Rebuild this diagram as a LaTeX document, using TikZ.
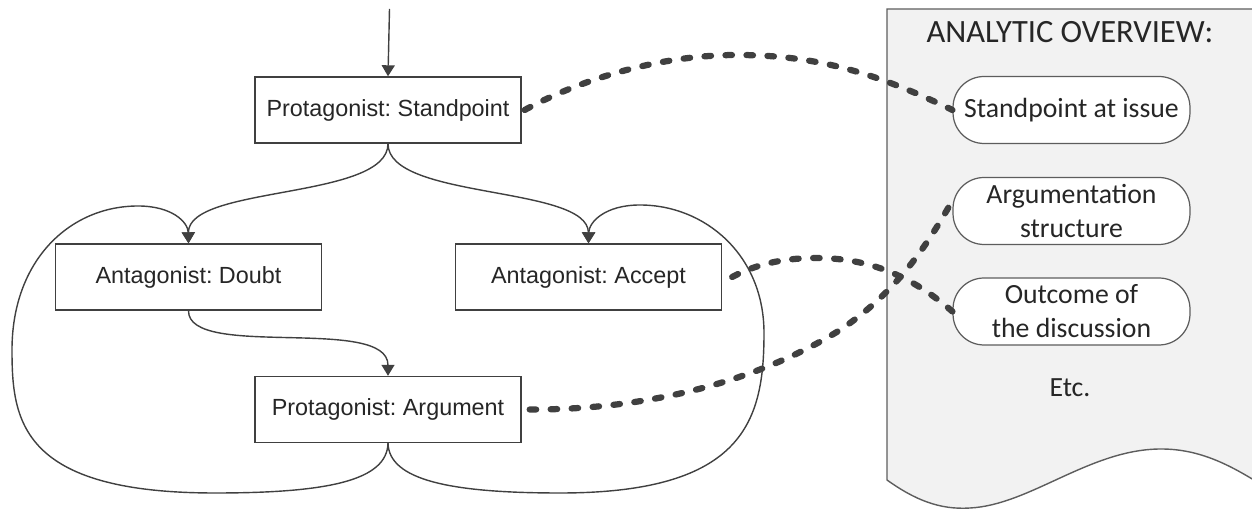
\documentclass[tikz,border=0pt]{standalone}
\usepackage{fontspec}
\setmainfont{Liberation Sans}
\newfontfamily\calib{Carlito}
\usetikzlibrary{arrows.meta}
\definecolor{ln}{HTML}{404040}
\definecolor{panelfill}{HTML}{F2F2F2}
\definecolor{txt}{HTML}{262626}
\frenchspacing
\begin{document}
\begin{tikzpicture}[x=0.02cm,y=-0.02cm,
  box/.style={draw=ln, line width=0.8pt, fill=white, minimum width=5.32cm, minimum height=1.32cm, inner sep=0pt, text=txt, font=\fontsize{13.3}{16}\selectfont},
  pill/.style={draw=ln!85, line width=0.7pt, fill=white, rounded corners=0.62cm, minimum width=4.74cm, minimum height=1.34cm, align=center, inner sep=0pt, text=txt, font=\calib\fontsize{15.8}{19.3}\selectfont},
  link/.style={draw=ln, line width=0.8pt, -{Triangle[length=0.22cm,width=0.26cm]}},
  dlink/.style={draw=ln, line width=0.125cm, line cap=round, dash pattern=on 0.13cm off 0.29cm},
  panel/.style={draw=ln!85, line width=0.8pt, fill=panelfill}]
\useasboundingbox (0,0) rectangle (1252,509);

% panel
\path[panel] (1262,9) -- (887,9) -- (887,480)
  .. controls (915,500) and (940,510) .. (970,508)
  .. controls (1030,505) and (1090,449) .. (1161,449)
  .. controls (1200,449) and (1230,465) .. (1262,485);
\node[text=txt, font=\calib\fontsize{18.5}{22}\selectfont] (title) at (1070,32) {ANALYTIC OVERVIEW:};
\node[text=txt, font=\calib\fontsize{15.8}{19}\selectfont] (etc) at (1070,388) {Etc.};

\coordinate (top) at (389.5,9);
\node[box] (sp) at (388,110) {Protagonist: Standpoint};
\node[box] (doubt) at (188.5,277) {Antagonist: Doubt};
\node[box] (accept) at (588.5,277) {Antagonist: Accept};
\node[box] (arg) at (388,409.5) {Protagonist: Argument};

% loops
\draw[link] (arg.south) .. controls (387,480) and (330,493) .. (215,493)
  .. controls (20,493) and (12,420) .. (12,350)
  .. controls (12,260) and (70,206) .. (138,206)
  .. controls (172,206) and (188,222) .. (doubt.north);
\draw[link] (arg.south) .. controls (389,480) and (450,493) .. (560,493)
  .. controls (745,493) and (764,420) .. (764,333)
  .. controls (764,255) and (705,205) .. (640,205)
  .. controls (605,205) and (589,222) .. (accept.north);

% redraw boxes on top of the loops
\node[box] at (sp) {Protagonist: Standpoint};
\node[box] at (doubt) {Antagonist: Doubt};
\node[box] at (accept) {Antagonist: Accept};
\node[box] at (arg) {Protagonist: Argument};

\draw[link] (top) -- (sp.north);
\draw[link] (sp.south) .. controls (388,200) and (188,185) .. (doubt.north);
\draw[link] (sp.south) .. controls (388,200) and (588,185) .. (accept.north);
\draw[link] (doubt.south) .. controls (188,360) and (388,315) .. (arg.north);

% pills
\node[pill] (sap) at (1071.5,110) {Standpoint at issue};
\node[pill] (as) at (1071.5,211) {Argumentation\\structure};
\node[pill] (out) at (1071.5,311.5) {Outcome of\\the discussion};

% dashed links
\draw[dlink] ([xshift=0.06cm]sp.east) .. controls (570,85) and (650,55) .. (737,55)
  .. controls (820,55) and (880,75) .. (sap.west);
\draw[dlink] ([xshift=0.2cm]accept.east) .. controls (760,262) and (790,258) .. (816,258)
  .. controls (860,258) and (905,270) .. (out.west);
\draw[dlink] ([xshift=0.16cm]arg.east) .. controls (650,410) and (760,380) .. (840,330)
  .. controls (900,290) and (930,240) .. ([xshift=0.03cm,yshift=0.26cm]as.west);
\end{tikzpicture}
\end{document}
